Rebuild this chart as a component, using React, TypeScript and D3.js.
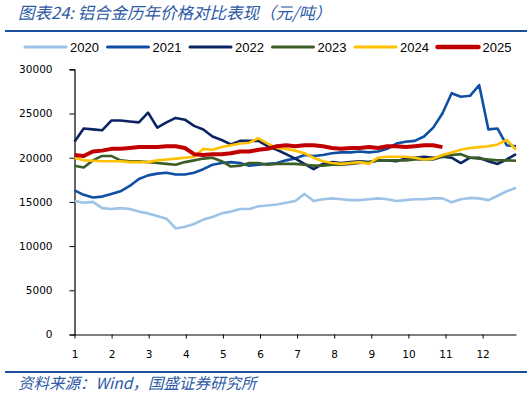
import React, { useEffect, useRef } from 'react';
import * as d3 from 'd3';

// roughly weekly samples, Jan 1 -> end of Dec
const years = ['2020', '2021', '2022', '2023', '2024', '2025'];
const colors = ['#9DC3E6', '#0F4FA3', '#0A2464', '#3B5E26', '#FFC000', '#C00000'];
const monthTicks = [1, 2, 3, 4, 5, 6, 7, 8, 9, 10, 11, 12];
const yTicks = [0, 5000, 10000, 15000, 20000, 25000, 30000];

const v2020 = [15100, 14900, 15000, 14300, 14200, 14300, 14200, 13900, 13700, 13400, 13100, 12000, 12200, 12500, 13000, 13300,
  13700, 13900, 14200, 14200, 14500, 14600, 14700, 14900, 15100, 15900, 15100, 15300, 15400, 15300, 15200, 15200,
  15300, 15400, 15300, 15100, 15200, 15300, 15300, 15400, 15400, 14950, 15300, 15450, 15400, 15200, 15700, 16200, 16600];
const v2021 = [16300, 15800, 15500, 15600, 15900, 16200, 16800, 17600, 18000, 18200, 18300, 18100, 18100, 18300, 18700, 19200,
  19400, 19500, 19400, 19100, 19200, 19300, 19400, 19700, 19900, 20300, 20200, 20300, 20500, 20600, 20600, 20700,
  20600, 20700, 21000, 21600, 21800, 21900, 22400, 23400, 25000, 27300, 26900, 27000, 28200, 23200, 23300, 21400, 21300];
const v2022 = [21800, 23300, 23200, 23100, 24200, 24200, 24100, 24000, 25100, 23400, 24000, 24500, 24300, 23600, 23200, 22400,
  22000, 21500, 21900, 21900, 21900, 21300, 20900, 20400, 19900, 19300, 18700, 19300, 19500, 19400, 19500, 19600,
  19500, 19700, 19700, 19600, 19900, 20000, 20100, 20000, 20100, 20000, 19400, 20000, 20000, 19600, 19300, 19800, 20400];
const v2023 = [19100, 18900, 19700, 20200, 20200, 19700, 19600, 19600, 19500, 19400, 19300, 19200, 19500, 19700, 19900, 20000,
  19600, 19000, 19100, 19400, 19400, 19200, 19300, 19300, 19300, 19200, 19100, 19100, 19200, 19200, 19300, 19400,
  19500, 19700, 19700, 19700, 19700, 19800, 19800, 19800, 20100, 20300, 20400, 20000, 19900, 19800, 19700, 19700, 19650];
const v2024 = [20000, 19700, 19650, 19600, 19600, 19600, 19500, 19500, 19500, 19700, 19800, 19900, 20000, 20100, 21000, 20900,
  21200, 21400, 21600, 21700, 22200, 21600, 21100, 21000, 20800, 20500, 20000, 19600, 19400, 19300, 19400, 19500,
  19300, 20000, 20100, 20100, 20100, 20000, 19800, 19900, 20300, 20600, 20900, 21100, 21200, 21300, 21500, 22000, 20900];
const v2025 = [20300, 20200, 20700, 20800, 21000, 21000, 21100, 21200, 21200, 21200, 21300, 21300, 21100, 20400, 20300, 20400,
  20400, 20500, 20700, 20700, 20900, 21000, 21300, 21400, 21300, 21400, 21400, 21300, 21100, 21000, 21100, 21100,
  21200, 21100, 21300, 21300, 21200, 21300, 21400, 21400, 21200];

const seriesValues = [v2020, v2021, v2022, v2023, v2024, v2025];
const STEPS = 48; // samples per year minus one

const App = () => {
  const ref = useRef<SVGSVGElement>(null);

  useEffect(() => {
    const svg = d3.select(ref.current);
    svg.selectAll('*').remove();

    const blue = '#1B4F9C';
    const cjk = "'Noto Sans CJK SC', 'Noto Sans', sans-serif";
    const tickFont = "'DejaVu Sans', Verdana, sans-serif";

    // title + rules
    svg.append('text')
      .attr('x', 18).attr('y', 19)
      .attr('fill', '#2D5AA6')
      .style('font-family', cjk)
      .style('font-size', '16.5px')
      .style('font-style', 'italic')
      .text('图表24:  铝合金历年价格对比表现（元/吨）');

    svg.append('line')
      .attr('x1', 5).attr('x2', 527).attr('y1', 31).attr('y2', 31)
      .attr('stroke', blue).attr('stroke-width', 2);
    svg.append('line')
      .attr('x1', 5).attr('x2', 527).attr('y1', 372).attr('y2', 372)
      .attr('stroke', blue).attr('stroke-width', 2);

    svg.append('text')
      .attr('x', 18).attr('y', 389)
      .attr('fill', '#2D5AA6')
      .style('font-family', cjk)
      .style('font-size', '15.5px')
      .style('font-style', 'italic')
      .text('资料来源：Wind，国盛证券研究所');

    const x = d3.scaleLinear().domain([1, 12.9]).range([74.5, 516]);
    const y = d3.scaleLinear().domain([0, 30000]).range([334.5, 69.3]);

    // y axis
    const yAxis = svg.append('g')
      .attr('transform', 'translate(74.5,0)')
      .call(d3.axisLeft(y).tickValues(yTicks).tickSize(5).tickFormat(d3.format('d')));
    yAxis.select('.domain').attr('stroke', '#000').attr('stroke-width', 1.2);
    yAxis.selectAll('.tick line').attr('stroke', '#000');
    yAxis.selectAll('text')
      .attr('x', -22)
      .attr('fill', '#000')
      .style('font-family', tickFont)
      .style('font-size', '10.5px');

    // x axis
    const xAxis = svg.append('g')
      .attr('transform', 'translate(0,334.5)')
      .call(d3.axisBottom(x).tickValues(monthTicks).tickSize(4).tickSizeOuter(0));
    xAxis.select('.domain').attr('stroke', '#000').attr('stroke-width', 1.2);
    xAxis.selectAll('.tick line').attr('stroke', '#000');
    xAxis.selectAll('text')
      .attr('y', 16)
      .attr('fill', '#000')
      .style('font-family', tickFont)
      .style('font-size', '10.5px');

    const line = d3.line<number>()
      .x((_, i) => x(1 + (i * 11.9) / STEPS))
      .y(d => y(d));

    seriesValues.forEach((vals, k) => {
      svg.append('path')
        .datum(vals)
        .attr('fill', 'none')
        .attr('stroke', colors[k])
        .attr('stroke-width', k === 5 ? 4 : 2.6)
        .attr('stroke-linejoin', 'round')
        .attr('d', line);
    });

    // legend
    const lg = svg.append('g').attr('transform', 'translate(25,47)');
    years.forEach((yr, k) => {
      const gx = k * 82.5;
      lg.append('line')
        .attr('x1', gx).attr('x2', gx + 41).attr('y1', 0).attr('y2', 0)
        .attr('stroke', colors[k])
        .attr('stroke-width', k === 5 ? 4.5 : 3)
        .attr('stroke-linecap', 'round');
      lg.append('text')
        .attr('x', gx + 45).attr('y', 0).attr('dy', '0.35em')
        .style('font-family', "'Liberation Sans', Arial, sans-serif")
        .style('font-size', '13px')
        .text(yr);
    });
  }, []);

  return (
    <svg ref={ref} width={532} height={397}
      style={{ position: 'absolute', left: 0, top: 0, background: '#fff' }} />
  );
};

export default App;
